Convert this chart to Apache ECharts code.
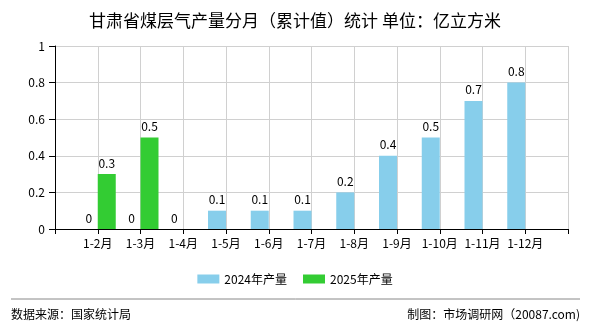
<!DOCTYPE html>
<html>
<head>
<meta charset="utf-8">
<style>
  html, body { margin: 0; padding: 0; background: #fff; }
  #chart { width: 590px; height: 330px; }
</style>
<script src="https://cdn.jsdelivr.net/npm/echarts@6/dist/echarts.min.js"></script>
</head>
<body>
<div id="chart"></div>
<script>
// empty slots at both ends: the axis has a tick before 1-2月 and after 1-12月
var categories = ['', '1-2月', '1-3月', '1-4月', '1-5月', '1-6月', '1-7月', '1-8月', '1-9月', '1-10月', '1-11月', '1-12月', '']
var data2024 = [null, 0, 0, 0, 0.1, 0.1, 0.1, 0.2, 0.4, 0.5, 0.7, 0.8, null]
var data2025 = [null, 0.3, 0.5, null, null, null, null, null, null, null, null, null, null]
var yTicks = [0, 0.2, 0.4, 0.6, 0.8, 1]

var font = '"Noto Sans CJK SC", "Noto Sans", sans-serif'
var chart = echarts.init(document.getElementById('chart'), null, { renderer: 'canvas' })

function barLabel() {
  return {
    show: true,
    position: 'top',
    distance: 5,
    color: '#000',
    fontSize: 12,
    fontFamily: font
  }
}

chart.setOption({
  animation: false,
  backgroundColor: '#fff',
  title: {
    text: '甘肃省煤层气产量分月（累计值）统计 单位：亿立方米',
    left: 'center',
    top: 7,
    textStyle: {
      color: '#000',
      fontSize: 17,
      fontWeight: 'normal',
      fontFamily: font
    }
  },
  grid: {
    left: 55,
    right: 22,
    top: 46,
    bottom: 101
  },
  legend: {
    top: 268,
    left: 'center',
    itemWidth: 22,
    itemHeight: 9,
    itemGap: 16,
    icon: 'rect',
    textStyle: { color: '#000', fontSize: 12, fontFamily: font },
    data: ['2024年产量', '2025年产量']
  },
  xAxis: {
    type: 'category',
    data: categories,
    boundaryGap: false,
    axisLine: { lineStyle: { color: '#000', width: 1 } },
    axisTick: { show: true, length: 5, lineStyle: { color: '#000' } },
    axisLabel: { color: '#000', fontSize: 12, fontFamily: font, margin: 8, interval: 0 },
    splitLine: { show: true, lineStyle: { color: '#d0d0d0', width: 1 } }
  },
  yAxis: {
    type: 'value',
    min: yTicks[0],
    max: yTicks[yTicks.length - 1],
    interval: 0.2,
    axisLine: { show: true, lineStyle: { color: '#000', width: 1 } },
    axisTick: { show: true, length: 6, lineStyle: { color: '#000' } },
    axisLabel: { color: '#000', fontSize: 12, fontFamily: font, margin: 10 },
    splitLine: { show: true, lineStyle: { color: '#d0d0d0', width: 1 } }
  },
  series: [
    {
      name: '2024年产量',
      type: 'bar',
      data: data2024,
      barWidth: 18,
      barGap: '0%',
      itemStyle: { color: '#87CEEB' },
      label: barLabel()
    },
    {
      name: '2025年产量',
      type: 'bar',
      data: data2025,
      barWidth: 18,
      itemStyle: { color: '#33CC33' },
      label: barLabel()
    }
  ],
  graphic: [
    {
      type: 'line',
      shape: { x1: 11, y1: 299, x2: 580, y2: 299 },
      style: { stroke: '#888', lineWidth: 1 }
    },
    {
      type: 'text',
      left: 11,
      top: 308,
      style: { text: '数据来源：国家统计局', fill: '#000', fontSize: 12, fontFamily: font }
    },
    {
      type: 'text',
      right: 10,
      top: 308,
      style: { text: '制图：市场调研网（20087.com)', fill: '#000', fontSize: 12, fontFamily: font }
    }
  ]
})
</script>
</body>
</html>
